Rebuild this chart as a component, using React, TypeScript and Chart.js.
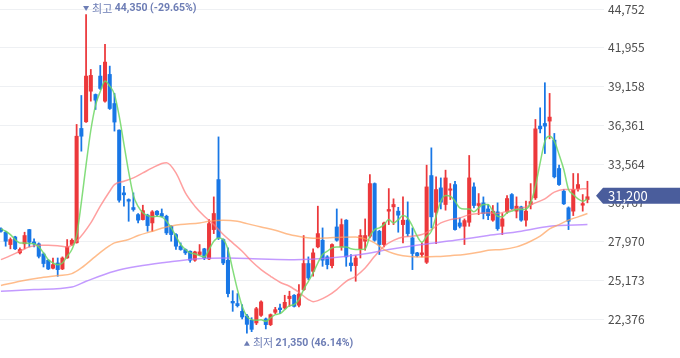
import React, { useEffect, useRef } from "react";
import { Chart, registerables } from "chart.js";

Chart.register(...registerables);

// ---- data ----
const OPEN = [28880,28640,27750,28300,27150,27800,28830,27940,27800,27070,26620,26040,26420,25990,26780,27750,27880,36130,36610,38820,38580,39910,38100,40030,37930,36010,31480,31000,30420,29910,29550,29870,29310,30160,29990,29790,29070,28470,27630,27390,27270,26620,27030,27440,26710,28830,32440,28110,26620,23650,23490,22930,22590,22280,22090,22640,22380,21970,22860,23170,23170,23850,24090,23370,24500,26380,25820,27580,28060,26860,26230,29020,27580,29510,26420,26230,27440,27990,28350,32150,28710,27750,30160,30470,30160,29190,29510,28230,27150,27030,26470,32730,30080,31840,30640,31670,32080,29310,29070,29360,31910,30570,30760,30320,29510,30110,29070,30110,31360,30160,30470,29510,30640,31120,36300,36490,36660,35290,33240,31600,30400,30160,31790,30590,31000];
const HIGH = [28950,28710,28230,28350,27510,28640,28850,28160,27870,27150,26660,26780,26780,26860,28110,28160,36420,38510,44350,40390,38620,40680,42200,40630,38660,36030,31960,31050,31480,29990,30590,29940,30200,30200,30320,29870,29120,28540,27870,27440,27290,27270,27750,27480,29550,31190,35520,28160,27510,24420,24210,23410,22710,22470,23220,23680,22450,22740,23220,23460,24090,24380,24140,24860,28400,26860,27440,30520,28950,26950,27800,30320,29600,29550,27030,26950,28830,29600,32800,32200,28780,29380,31790,31050,30440,31190,30830,28950,27190,27870,33480,34730,32640,32560,33120,32150,32320,29670,29600,34180,32200,31430,31190,30640,30570,30760,29990,31290,31430,31190,30520,30880,32150,36780,37620,39430,38660,35770,33480,31720,30470,32880,32880,31360,32320];
const LOW = [28640,27630,27440,27390,27070,27440,27580,27580,26780,26130,25940,25990,25460,25940,26760,27680,27850,34490,36560,38100,37500,38940,38030,37500,35940,30810,30520,29430,30160,29310,29520,28710,28710,29790,29740,28470,27990,27390,27340,27030,26470,26540,26950,26660,26660,28540,28110,26300,23970,22930,23240,22380,21350,21460,21970,22570,21660,21900,22760,22760,23100,23290,23240,23240,24420,25220,25460,27510,26180,25990,26060,27990,27340,26180,25820,25100,26780,27340,28230,27990,27030,27580,29190,29190,28640,27870,28350,25940,26860,26860,26380,28950,27820,30320,30230,31000,28780,28950,27750,29070,30400,29910,29600,29550,29430,28780,28470,29990,30280,29670,29430,29070,30320,31000,35810,34320,35380,32560,32010,30640,28830,29840,31600,30160,30760];
const CLOSE = [28710,27990,28110,27440,27390,28400,27920,27800,26900,26380,25990,26300,25940,26780,27580,28060,35570,35570,39910,39960,38170,39020,40920,37570,36590,30950,31340,30880,30280,29510,30200,29120,30110,29910,29790,28590,28470,27630,27390,27150,26620,27220,27220,26780,29260,29990,28230,26420,24210,23530,23340,22520,21990,21630,23120,23610,21970,22690,23050,23050,23580,24020,23290,24180,26380,25340,27150,28540,26620,26300,27750,28060,29190,26860,26230,26780,28400,28400,32150,28060,27750,29310,30280,30640,29870,29510,28540,27100,26950,27150,31910,29750,31720,30810,32560,31770,28830,29070,29480,32560,30570,30710,29990,29840,30160,28900,29600,31070,30350,30520,29510,30160,30850,36100,36100,36300,36950,32640,32080,30690,29430,31720,32080,30710,31200];

// 5-day average line, one value per candle
const MA5 = [28880,28710,28470,28110,27870,27870,27820,27800,27580,27150,26660,26420,26300,26420,26900,27390,28400,30800,33500,36000,37800,38800,39550,39190,38580,37020,35000,33000,31300,30500,30040,29840,29750,29800,29750,29430,28950,28350,27750,27390,27150,27070,26950,26860,27390,27990,28230,28110,27390,25940,24500,23290,22570,22330,22280,22330,22210,22450,22690,22760,23050,23340,23410,23780,24500,25100,25700,26420,27030,27270,27510,27580,27580,27580,27440,27390,27390,27440,28350,28830,28950,29190,29550,29310,29550,29840,29670,29070,28350,27920,28350,28710,29790,30880,31290,31240,30880,30400,30320,30320,30110,30400,30640,30640,30160,29790,29750,30040,30160,30280,30280,30320,30760,31960,33650,35210,35570,35210,34250,33170,31720,31360,31050,30880,31050];
// 20-day average line, sampled positions
const MA20_IDX = [0,2,4,6,8,10,12,14,16,19,21,23,24,26,28,30,32,34,35,37,39,41,43,45,47,49,51,53,55,57,59,61,63,65,66,67,69,71,73,75,77,79,81,83,85,87,89,91,93,95,97,99,101,103,105,107,109,111,113,115,117,119,121,123,124];
const MA20 = [26660,26950,27270,27580,27700,27700,27670,27580,28000,29310,30520,31600,32080,32320,32560,32920,33280,33600,33650,32920,31480,30520,29790,29190,28470,27870,27270,26540,25940,25460,25030,24740,24300,23780,23630,23700,24020,24500,25100,25460,26060,26900,27630,28050,28300,28350,28470,28830,29310,29550,29670,29910,29990,30040,29990,30160,30320,30470,30760,31050,31530,31720,31720,31770,31790];
// 60-day average line
const MA60_IDX = [0,4,8,12,15,17,20,22,24,27,29,32,35,38,42,44,47,50,52,55,58,61,64,66,69,72,75,77,79,81,83,85,89,92,95,98,101,103,106,109,112,114,116,118,120,122,124];
const MA60 = [24790,25100,25340,25510,25650,26060,26900,27435,27870,28110,28400,28710,29020,29190,29310,29430,29510,29430,29260,29020,28780,28470,28280,28200,28230,28280,28300,28160,27870,27390,27100,26950,26860,26880,26950,27030,27190,27340,27390,27580,27990,28350,28880,29190,29510,29750,29990];
// 120-day average line
const MA120_IDX = [0,7,15,18,24,29,35,41,48,55,62,69,76,82,89,96,103,110,116,124];
const MA120 = [24380,24500,24690,25100,25820,26180,26470,26710,26780,26710,26660,26760,27030,27390,27750,28060,28400,28710,29070,29190];

const Y_TICKS = [22376, 25173, 27970, 30767, 33564, 36361, 39158, 41955, 44752];
const CURRENT = 31200;
const HIGH_TEXT = "최고";
const LOW_TEXT = "최저";

const UP = "#ec383b";
const DOWN = "#1877e6";
const FONT = "'Noto Sans CJK KR', 'Noto Sans', sans-serif";
const NUM_FONT = "Roboto, 'Noto Sans CJK KR', sans-serif";

export default function App() {
  const ref = useRef<HTMLCanvasElement>(null);

  useEffect(() => {
    if (!ref.current) return;
    const idx = OPEN.map((_, i) => i);
    const colors = idx.map((i) => (CLOSE[i] >= OPEN[i] ? UP : DOWN));
    const wick = idx.map((i) => ({ x: i, y: [LOW[i], HIGH[i]] }));
    const body = idx.map((i) => ({ x: i, y: [OPEN[i], CLOSE[i]] }));
    const pts = (xs: number[], ys: number[]) => xs.map((x, k) => ({ x, y: ys[k] }));
    const fmt = (v: number) => v.toLocaleString("en-US");
    const hiIdx = HIGH.indexOf(Math.max(...HIGH));
    const loIdx = LOW.indexOf(Math.min(...LOW));
    const hi = HIGH[hiIdx];
    const lo = LOW[loIdx];
    const pct = (b: number) => ((CURRENT / b - 1) * 100).toFixed(2) + "%";

    const annot = {
      id: "annot",
      afterDraw(chart: any) {
        const { ctx, scales } = chart;
        const x = scales.x;
        const y = scales.y;
        const drawLabel = (i: number, v: number, dy: number, up: boolean, word: string) => {
          const px = x.getPixelForValue(i);
          const py = y.getPixelForValue(v) + dy;
          ctx.save();
          ctx.fillStyle = "#6d7db5";
          ctx.beginPath();
          if (up) {
            ctx.moveTo(px - 3, py + 2.5);
            ctx.lineTo(px + 3, py + 2.5);
            ctx.lineTo(px, py - 2.5);
          } else {
            ctx.moveTo(px - 3, py - 2.5);
            ctx.lineTo(px + 3, py - 2.5);
            ctx.lineTo(px, py + 2.5);
          }
          ctx.closePath();
          ctx.fill();
          ctx.textBaseline = "middle";
          ctx.textAlign = "left";
          ctx.font = `11px ${FONT}`;
          const t1 = word + " ";
          ctx.fillText(t1, px + 6, py);
          const w1 = ctx.measureText(t1).width;
          ctx.font = `bold 10.5px ${NUM_FONT}`;
          ctx.fillText(`${fmt(v)} (${pct(v)})`, px + 6 + w1, py);
          ctx.restore();
        };
        drawLabel(hiIdx, hi, -6, false, HIGH_TEXT);
        drawLabel(loIdx, lo, 10, true, LOW_TEXT);

        // current price tag
        const cy = y.getPixelForValue(CURRENT) - 1;
        const left = chart.chartArea.right - 1;
        ctx.save();
        ctx.fillStyle = "#4a5d9c";
        ctx.beginPath();
        ctx.moveTo(left - 7, cy);
        ctx.lineTo(left, cy - 8);
        ctx.lineTo(680, cy - 8);
        ctx.lineTo(680, cy + 8);
        ctx.lineTo(left, cy + 8);
        ctx.closePath();
        ctx.fill();
        ctx.fillStyle = "#ffffff";
        ctx.font = `13px ${FONT}`;
        ctx.textBaseline = "middle";
        ctx.textAlign = "left";
        ctx.fillText(fmt(CURRENT), chart.chartArea.right + 4, cy + 0.5);
        ctx.restore();
      },
    };

    const lineDs = (label: string, data: any[], color: string, order: number, tension: number) => ({
      type: "line" as const,
      label,
      data,
      borderColor: color,
      borderWidth: 1.5,
      pointRadius: 0,
      tension,
      cubicInterpolationMode: "monotone" as const,
      order,
      fill: false,
    });

    const chart = new Chart(ref.current, {
      type: "bar",
      data: {
        datasets: [
          lineDs("MA5", pts(idx, MA5), "rgba(110,215,100,0.85)", 0, 0.3),
          lineDs("MA20", pts(MA20_IDX, MA20), "rgba(255,120,120,0.7)", 0, 0.4),
          lineDs("MA60", pts(MA60_IDX, MA60), "rgba(255,160,90,0.7)", 0, 0.4),
          lineDs("MA120", pts(MA120_IDX, MA120), "rgba(175,120,255,0.75)", 0, 0.4),
          {
            type: "bar",
            label: "body",
            data: body as any,
            backgroundColor: colors,
            barThickness: 3.4,
            minBarLength: 1,
            grouped: false,
            order: 1,
          },
          {
            type: "bar",
            label: "wick",
            data: wick as any,
            backgroundColor: colors,
            barThickness: 1.1,
            grouped: false,
            order: 2,
          },
        ] as any,
      },
      options: {
        animation: false,
        responsive: true,
        maintainAspectRatio: false,
        devicePixelRatio: 1,
        layout: { padding: 0 },
        plugins: { legend: { display: false }, tooltip: { enabled: false } },
        scales: {
          x: {
            type: "linear",
            display: false,
            offset: false,
            min: -0.2,
            max: 127.5,
          },
          y: {
            type: "linear",
            position: "right",
            min: 19561,
            max: 45402,
            beginAtZero: false,
            afterBuildTicks: (s: any) => {
              s.ticks = Y_TICKS.map((v) => ({ value: v }));
            },
            afterFit: (s: any) => {
              s.width = 76;
              s.paddingTop = 0;
              s.paddingBottom = 0;
            },
            grid: { color: "#eef0f3", drawTicks: false },
            border: { display: false },
            ticks: {
              padding: 4,
              color: "#4d4d4d",
              font: { size: 12, family: FONT },
              callback: (v: any) => Number(v).toLocaleString("en-US"),
            },
          },
        },
      },
      plugins: [annot],
    });
    return () => chart.destroy();
  }, []);

  return (
    <div style={{ position: "fixed", left: 0, top: 0, width: 680, height: 358, background: "#fff" }}>
      <canvas ref={ref} />
    </div>
  );
}
